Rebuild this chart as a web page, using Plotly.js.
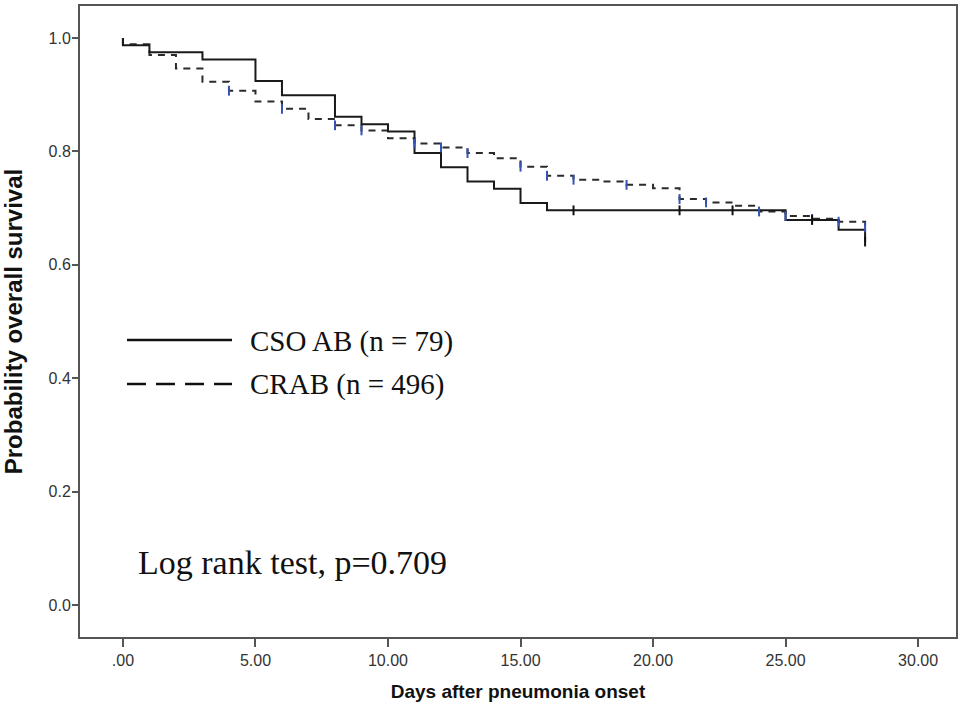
<!DOCTYPE html>
<html>
<head>
<meta charset="utf-8">
<script src="https://cdn.plot.ly/plotly-3.0.1.min.js"></script>
<style>html,body{margin:0;padding:0;background:#fff;}#chart{width:962px;height:716px;}</style>
</head>
<body>
<div id="chart"></div>
<script>
// ---- data ----
const csoDays = [0, 0, 1, 3, 5, 6, 8, 9, 10, 11, 12, 13, 14, 15, 16, 25, 27, 28];
const csoSurv = [1.000, 0.987, 0.975, 0.962, 0.924, 0.899, 0.861, 0.848, 0.835, 0.797, 0.772, 0.747, 0.734, 0.709, 0.696, 0.679, 0.662, 0.641];
const csoCensDays = [17, 21, 23, 26, 28];
const csoCensSurv = [0.696, 0.696, 0.696, 0.679, 0.641];

const crabDays = [0, 0, 1, 2, 3, 4, 5, 6, 7, 8, 9, 10, 11, 12, 13, 14, 15, 16, 17, 18, 19, 20, 21, 22, 23, 24, 25, 26, 27, 28];
const crabSurv = [1.000, 0.989, 0.970, 0.946, 0.923, 0.907, 0.888, 0.875, 0.857, 0.846, 0.837, 0.823, 0.814, 0.807, 0.797, 0.788, 0.773, 0.757, 0.750, 0.747, 0.741, 0.735, 0.716, 0.710, 0.704, 0.694, 0.686, 0.681, 0.676, 0.666];
const crabCensDays = [4, 6, 8, 9, 11, 12, 13, 15, 16, 17, 19, 21, 22, 24, 25, 26, 27, 28];
const crabCensSurv = [0.907, 0.875, 0.846, 0.837, 0.814, 0.807, 0.797, 0.773, 0.757, 0.750, 0.741, 0.716, 0.710, 0.694, 0.686, 0.681, 0.676, 0.666];

const xTickVals = [0, 5, 10, 15, 20, 25, 30];
const xTickText = ['.00', '5.00', '10.00', '15.00', '20.00', '25.00', '30.00'];
const yTickVals = [0, 0.2, 0.4, 0.6, 0.8, 1.0];
const yTickText = ['0.0', '0.2', '0.4', '0.6', '0.8', '1.0'];

const legendLabels = ['CSO AB (n = 79)', 'CRAB (n = 496)'];
const testLabel = 'Log rank test, p=0.709';

// ---- traces ----
const censBlue = '#3552b5';
const traces = [
  {x: crabDays, y: crabSurv, mode: 'lines', line: {shape: 'hv', color: '#2b2b2b', width: 2, dash: '7px,6px'}, hoverinfo: 'skip'},
  {x: csoDays, y: csoSurv, mode: 'lines', line: {shape: 'hv', color: '#1a1a1a', width: 2}, hoverinfo: 'skip'},
  {x: crabCensDays, y: crabCensSurv, mode: 'markers', marker: {symbol: 'line-ns-open', size: 7, color: censBlue, line: {color: censBlue, width: 2}}, hoverinfo: 'skip'},
  {x: csoCensDays, y: csoCensSurv, mode: 'markers', marker: {symbol: 'line-ns-open', size: 7, color: '#111', line: {color: '#111', width: 2}}, hoverinfo: 'skip'}
];

const L = 80, R = 6, T = 6, B = 79, W = 962, H = 716;
const pw = W - L - R, ph = H - T - B;
const px = v => (v - L) / pw;
const py = v => (H - B - v) / ph;

const serif = '"Liberation Serif", "Times New Roman", serif';
const sans = '"Liberation Sans", Arial, sans-serif';
const layout = {
  width: W, height: H,
  margin: {l: L, r: R, t: T, b: B, pad: 0},
  paper_bgcolor: '#fff', plot_bgcolor: '#fff',
  showlegend: false,
  xaxis: {
    range: [-1.62, 31.43], tickvals: xTickVals, ticktext: xTickText,
    showgrid: false, zeroline: false,
    showline: true, linecolor: '#555', linewidth: 2, mirror: true,
    ticks: 'outside', ticklen: 8, tickwidth: 2, tickcolor: '#555',
    tickfont: {family: sans, size: 16, color: '#333'},
    title: {text: 'Days after pneumonia onset', standoff: 16,
      font: {family: sans, size: 19, color: '#111', weight: 'bold'}}
  },
  yaxis: {
    range: [-0.0564, 1.0564], tickvals: yTickVals, ticktext: yTickText,
    showgrid: false, zeroline: false,
    showline: true, linecolor: '#555', linewidth: 2, mirror: true,
    ticks: 'outside', ticklen: 6, tickwidth: 2, tickcolor: '#555',
    ticklabelstandoff: -2,
    tickfont: {family: sans, size: 16, color: '#333'},
    title: {text: 'Probability overall survival', standoff: 24,
      font: {family: sans, size: 24, color: '#111', weight: 'bold'}}
  },
  shapes: [
    {type: 'line', xref: 'paper', yref: 'paper', x0: px(127), x1: px(232), y0: py(340), y1: py(340), line: {color: '#111', width: 2.5}},
    {type: 'line', xref: 'paper', yref: 'paper', x0: px(127), x1: px(232), y0: py(384), y1: py(384), line: {color: '#111', width: 2.5, dash: '19px,10px'}}
  ],
  annotations: [
    {xref: 'paper', yref: 'paper', x: px(248), y: py(341), xanchor: 'left', yanchor: 'middle', showarrow: false, text: legendLabels[0], font: {family: serif, size: 29, color: '#111'}},
    {xref: 'paper', yref: 'paper', x: px(248), y: py(384), xanchor: 'left', yanchor: 'middle', showarrow: false, text: legendLabels[1], font: {family: serif, size: 29, color: '#111'}},
    {xref: 'paper', yref: 'paper', x: px(136), y: py(562), xanchor: 'left', yanchor: 'middle', showarrow: false, text: testLabel, font: {family: serif, size: 34, color: '#111'}}
  ]
};

Plotly.newPlot('chart', traces, layout, {staticPlot: true, displayModeBar: false});
</script>
</body>
</html>
